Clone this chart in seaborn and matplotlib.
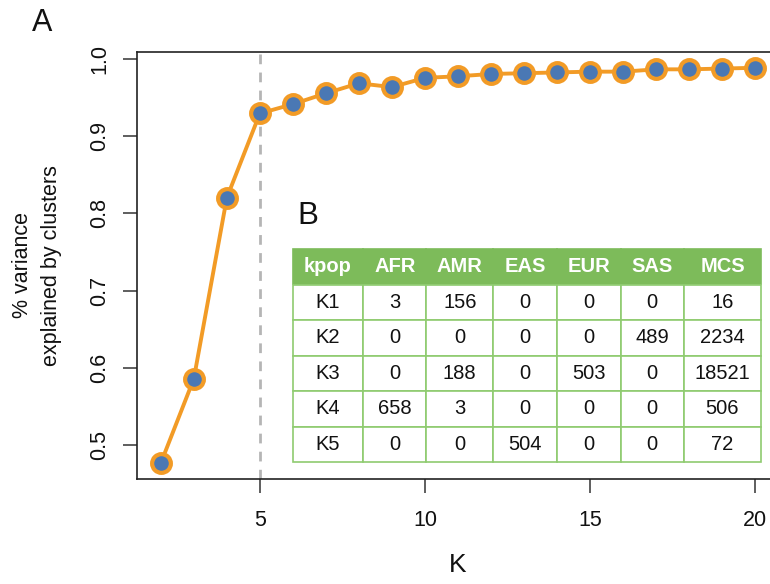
"""Variance explained by K clusters, with the kpop assignment table as an inset."""
import matplotlib
matplotlib.use('Agg')
import matplotlib.pyplot as plt
import pandas as pd
import seaborn as sns

k_values = list(range(2, 21))
variance = [0.477, 0.586, 0.820, 0.929, 0.941, 0.955, 0.968, 0.963, 0.975,
            0.977, 0.980, 0.981, 0.982, 0.983, 0.983, 0.986, 0.986, 0.987, 0.988]
chosen_k = 5

table_cols = ['kpop', 'AFR', 'AMR', 'EAS', 'EUR', 'SAS', 'MCS']
table_rows = ['K1', 'K2', 'K3', 'K4', 'K5']
afr = [3, 0, 0, 658, 0]
amr = [156, 0, 188, 3, 0]
eas = [0, 0, 0, 0, 504]
eur = [0, 0, 503, 0, 0]
sas = [0, 489, 0, 0, 0]
mcs = [16, 2234, 18521, 506, 72]

sns.set_theme(style='ticks')
plt.rcParams['font.family'] = ['Liberation Sans', 'DejaVu Sans']

orange = '#F29B26'
blue = '#4A78B4'
green = '#7DBB5A'
green_line = '#8FCB70'

fig = plt.figure(figsize=(7.7, 5.84), dpi=100)
ax = fig.add_axes([137 / 770, 105 / 584, 642 / 770, 427 / 584])

df = pd.DataFrame({'K': k_values, 'var': variance})
ax.axvline(chosen_k, color='#B5B5B5', lw=2, ls=(0, (3.5, 3)), zorder=1)
sns.lineplot(data=df, x='K', y='var', ax=ax, color=orange, lw=2.8,
             marker='o', markersize=13.5, markerfacecolor=blue,
             markeredgecolor=orange, markeredgewidth=3, zorder=3)

ax.set_xlim(1.28, 20.72)
ax.set_ylim(0.4566, 1.0084)
ax.set_xticks([5, 10, 15, 20])
ax.set_yticks([0.5, 0.6, 0.7, 0.8, 0.9, 1.0])
ax.set_yticklabels(['0.5', '0.6', '0.7', '0.8', '0.9', '1.0'], rotation=90, va='center')
ax.tick_params(axis='both', labelsize=15.5, length=10, width=1.1, color='#333333',
               labelcolor='#111111')
ax.tick_params(axis='x', pad=12)
ax.tick_params(axis='y', pad=9)
for s in ax.spines.values():
    s.set_visible(True)
    s.set_color('#222222')
    s.set_linewidth(1.2)
ax.set_xlabel('K', fontsize=19, labelpad=16, color='#111111')
ax.set_ylabel('% variance\nexplained by clusters', fontsize=15.5, labelpad=20,
              linespacing=1.5, color='#111111')

fig.text(42 / 770, 1 - 23 / 584, 'A', fontsize=22, ha='center', va='center', color='#111111')
fig.text(297 / 770, 1 - 216 / 584, 'B', fontsize=22.5, ha='left', va='center', color='#111111')

# inset table
tax = fig.add_axes([293 / 770, 122 / 584, 468 / 770, 213 / 584])
tax.axis('off')
cells = [[r, str(a), str(b), str(c), str(d), str(e), str(f)]
         for r, a, b, c, d, e, f in zip(table_rows, afr, amr, eas, eur, sas, mcs)]
widths = [210, 190, 200, 190, 192, 190, 231]
tot = sum(widths)
tbl = tax.table(cellText=cells, colLabels=table_cols, cellLoc='center',
                colWidths=[w / tot for w in widths], bbox=[0, 0, 1, 1])
tbl.auto_set_font_size(False)
for (r, c), cell in tbl.get_celld().items():
    cell.set_edgecolor(green_line)
    cell.set_linewidth(1.2)
    cell.get_text().set_fontsize(14.5)
    if r == 0:
        cell.set_facecolor(green)
        cell.set_edgecolor(green)
        cell.get_text().set_color('white')
        cell.get_text().set_fontweight('bold')
    else:
        cell.set_facecolor('white')
        cell.get_text().set_color('#111111')

plt.savefig('out.png', dpi=100)
